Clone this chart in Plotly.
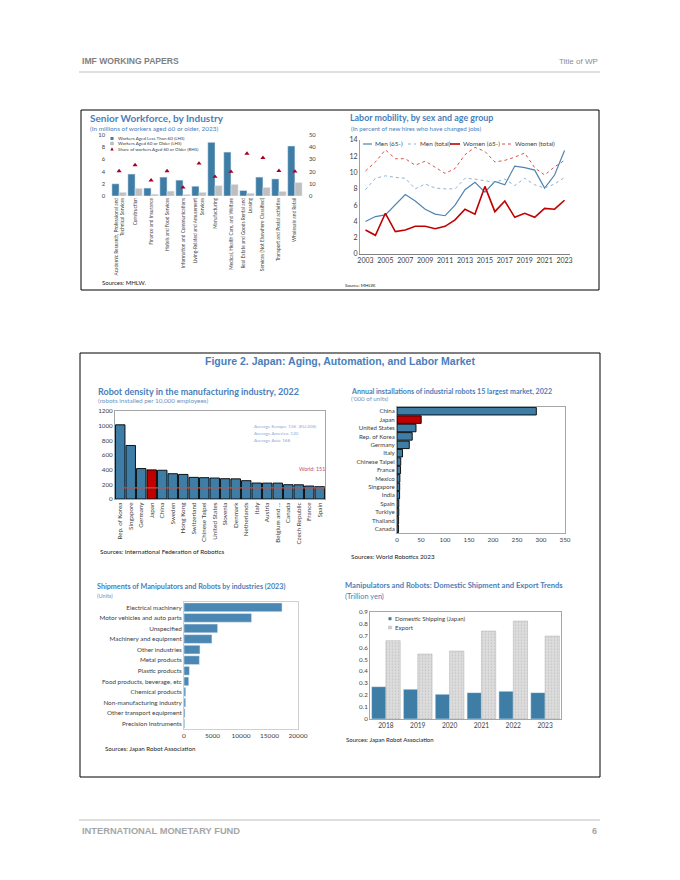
import plotly.graph_objects as go

W, H = 680, 880
def px(x): return x / W
def py(y): return 1 - y / H

# ---------------- data ----------------
industries = [
    "Academic Research, Professional and<br>Technical Services",
    "Construction",
    "Finance and Insurance",
    "Hotels and Food Services",
    "Information and Communications",
    "Living-Related and Amusement<br>Services",
    "Manufacturing",
    "Medical, Health Care, and Welfare",
    "Real Estate and Goods Rental and<br>Leasing",
    "Services (Not Elsewhere Classified)",
    "Transport and Postal activities",
    "Wholesale and Retail",
]
workers_lt60 = [2.0, 3.6, 1.3, 3.1, 2.6, 1.6, 8.8, 7.2, 0.9, 3.1, 2.8, 8.2]
workers_60plus = [0.6, 1.25, 0.3, 0.8, 0.25, 0.6, 1.7, 1.9, 0.45, 1.4, 0.75, 2.2]
share_60plus = [20.4, 25.4, 12.9, 20.4, 7.0, 26.7, 15.8, 19.9, 34.8, 31.3, 20.6, 20.1]

years = list(range(2003, 2024))
men_65 = [4.0, 4.6, 4.8, 6.0, 7.3, 6.5, 5.5, 4.9, 4.7, 6.0, 7.9, 8.8, 7.6, 8.9, 8.5,
          10.8, 10.6, 10.3, 8.1, 9.7, 12.7]
men_total = [7.9, 9.3, 9.6, 9.4, 9.3, 8.0, 8.6, 8.1, 8.0, 8.0, 9.3, 9.2, 9.0, 8.8, 9.2,
             8.4, 9.3, 8.5, 8.1, 8.6, 9.4]
women_65 = [2.95, 2.3, 5.0, 2.75, 2.95, 3.4, 3.4, 3.1, 3.4, 4.2, 5.5, 4.9, 8.3, 5.2, 6.5,
            4.5, 5.0, 4.5, 5.6, 5.5, 6.6]
women_total = [10.2, 11.3, 12.8, 11.7, 11.7, 10.9, 11.4, 10.6, 9.9, 10.5, 12.2, 13.1, 12.6,
               11.3, 11.5, 11.9, 12.4, 10.6, 9.7, 10.7, 11.5]

density_countries = ["Rep. of Korea", "Singapore", "Germany", "Japan", "China", "Sweden",
                     "Hong Kong", "Switzerland", "Chinese Taipei", "United States", "Slovenia",
                     "Denmark", "Netherlands", "Italy", "Austria", "Belgium and ...", "Canada",
                     "Czech Republic", "France", "Spain"]
density_values = [1012, 730, 415, 397, 392, 345, 335, 295, 291, 286, 277, 275, 250, 218, 217,
                  217, 195, 194, 177, 168]
world_density = 151

install_countries = ["China", "Japan", "United States", "Rep. of Korea", "Germany", "Italy",
                     "Chinese Taipei", "France", "Mexico", "Singapore", "India", "Spain",
                     "Turkiye", "Thailand", "Canada"]
install_values = [290.3, 50.4, 39.6, 31.7, 25.6, 11.5, 7.8, 7.4, 6.0, 5.6, 5.4, 3.8, 3.7, 3.3, 3.2]

ship_industries = ["Electrical machinery", "Motor vehicles and auto parts", "Unspecified",
                   "Machinery and equipment", "Other industries", "Metal products",
                   "Plastic products", "Food products, beverage, etc", "Chemical products",
                   "Non-manufacturing industry", "Other transport equipment",
                   "Precision Instruments"]
ship_units = [17200, 11850, 5900, 4900, 2800, 2700, 950, 830, 300, 290, 180, 130]

trend_years = ["2018", "2019", "2020", "2021", "2022", "2023"]
domestic = [0.271, 0.249, 0.207, 0.221, 0.232, 0.221]
export = [0.657, 0.545, 0.570, 0.738, 0.822, 0.696]

# ---------------- style ----------------
BLUE = "#3E7DA6"
BLUE2 = "#4A87B2"
RED = "#C00000"
GRAY = "#BFBFBF"
TITLE = "#4A7EBB"
SUB = "#6E93BF"
TXT = "#404040"
SRC = "#202020"
FONT = "Lato"
HFONT = "Liberation Sans"
FRAME = "#A6A6A6"

fig = go.Figure()

# Top-left: senior workforce
fig.add_trace(go.Bar(x=industries, y=workers_lt60, marker_color=BLUE, xaxis="x", yaxis="y",
                     showlegend=False))
fig.add_trace(go.Bar(x=industries, y=workers_60plus, marker_color=GRAY, xaxis="x", yaxis="y",
                     showlegend=False))
fig.add_trace(go.Scatter(x=industries, y=share_60plus, mode="markers", xaxis="x", yaxis="y2",
                         marker=dict(symbol="triangle-up", size=4.5, color="#A50021"),
                         showlegend=False))

# Top-right: labor mobility
fig.add_trace(go.Scatter(x=years, y=men_65, mode="lines", line=dict(color="#4F84B0", width=1.2),
                         xaxis="x3", yaxis="y3", showlegend=False))
fig.add_trace(go.Scatter(x=years, y=men_total, mode="lines",
                         line=dict(color="#8DB3D6", width=1, dash="dot"),
                         xaxis="x3", yaxis="y3", showlegend=False))
fig.add_trace(go.Scatter(x=years, y=women_65, mode="lines", line=dict(color=RED, width=1.6),
                         xaxis="x3", yaxis="y3", showlegend=False))
fig.add_trace(go.Scatter(x=years, y=women_total, mode="lines",
                         line=dict(color="#D9534F", width=1, dash="dot"),
                         xaxis="x3", yaxis="y3", showlegend=False))

# Middle-left: robot density
fig.add_trace(go.Bar(x=density_countries, y=density_values,
                     marker=dict(color=[RED if c == "Japan" else BLUE for c in density_countries],
                                 line=dict(color="black", width=0.9)),
                     xaxis="x4", yaxis="y4", showlegend=False))

# Middle-right: installations
fig.add_trace(go.Bar(y=install_countries, x=install_values, orientation="h",
                     marker=dict(color=[RED if c == "Japan" else BLUE for c in install_countries],
                                 line=dict(color="black", width=0.9)),
                     xaxis="x5", yaxis="y5", showlegend=False))

# Bottom-left: shipments
fig.add_trace(go.Bar(y=ship_industries, x=ship_units, orientation="h", marker_color=BLUE2,
                     width=0.82, xaxis="x6", yaxis="y6", showlegend=False))

# Bottom-right: domestic vs export
fig.add_trace(go.Bar(x=trend_years, y=domestic, marker_color=BLUE, xaxis="x7", yaxis="y7",
                     showlegend=False))
fig.add_trace(go.Bar(x=trend_years, y=export,
                     marker=dict(color="#DCDCDC", line=dict(color="#B0B0B0", width=0.5),
                                 pattern=dict(shape=".", fgcolor="#A8A8A8", size=3, solidity=0.2)),
                     xaxis="x7", yaxis="y7", showlegend=False))

tick = dict(family=FONT, size=6, color=TXT)
noline = dict(showgrid=False, zeroline=False, showline=False, ticks="")
framed = dict(showgrid=False, zeroline=False, showline=True, linecolor=FRAME, linewidth=1,
              mirror=True, ticks="")

fig.update_layout(
    width=W, height=H, autosize=False,
    margin=dict(l=0, r=0, t=0, b=0, autoexpand=False),
    paper_bgcolor="white", plot_bgcolor="rgba(0,0,0,0)",
    font=dict(family=FONT, color=TXT),
    barmode="group", bargap=0.1, bargroupgap=0,
    # top-left
    xaxis=dict(domain=[px(106), px(308)], anchor="y", tickangle=-90,
               tickfont=dict(family=FONT, size=4.8, color=TXT), **noline),
    yaxis=dict(domain=[py(196), py(135)], anchor="x", range=[0, 10], dtick=2,
               tickfont=dict(family=FONT, size=5.8, color=TXT), **noline),
    yaxis2=dict(overlaying="y", side="right", anchor="x", range=[0, 50], dtick=10,
                tickfont=dict(family=FONT, size=5.8, color=TXT), **noline),
    # top-right
    xaxis3=dict(domain=[px(360), px(570)], anchor="y3", range=[2002.45, 2023.55],
                tickvals=list(range(2003, 2024, 2)), tickangle=0,
                tickfont=dict(family=FONT, size=7, color=TXT),
                showgrid=False, zeroline=False, showline=True, linecolor="#808080", ticks=""),
    yaxis3=dict(domain=[py(254), py(140)], anchor="x3", range=[0, 14], dtick=2,
                tickfont=dict(family=FONT, size=7, color=TXT),
                showgrid=False, zeroline=False, showline=True, linecolor="#A0A0A0", ticks=""),
    # middle-left
    xaxis4=dict(domain=[px(115), px(325)], anchor="y4", tickangle=-90,
                tickfont=dict(family=FONT, size=6.3, color=TXT), **framed),
    yaxis4=dict(domain=[py(499), py(411)], anchor="x4", range=[0, 1200], dtick=200,
                tickfont=dict(family=FONT, size=6.3, color=TXT), **framed),
    # middle-right
    xaxis5=dict(domain=[px(397), px(565)], anchor="y5", range=[0, 350], dtick=50,
                tickfont=dict(family=FONT, size=6.3, color=TXT), **framed),
    yaxis5=dict(domain=[py(533), py(407)], anchor="x5", autorange="reversed",
                tickfont=dict(family=FONT, size=6.1, color=TXT), **framed),
    # bottom-left
    xaxis6=dict(domain=[px(184), px(298)], anchor="y6", range=[0, 20000], dtick=5000,
                tickformat="d",
                tickfont=dict(family=FONT, size=6.5, color=TXT), showgrid=False, zeroline=False,
                showline=True, linecolor="#D0D0D0", mirror=True, ticks=""),
    yaxis6=dict(domain=[py(729), py(602)], anchor="x6", autorange="reversed",
                tickfont=dict(family=FONT, size=6.3, color=TXT), showgrid=False, zeroline=False,
                showline=True, linecolor="#D0D0D0", mirror=True, ticks=""),
    # bottom-right
    xaxis7=dict(domain=[px(370), px(561)], anchor="y7",
                tickfont=dict(family=FONT, size=6.6, color=TXT), **framed),
    yaxis7=dict(domain=[py(719), py(611.7)], anchor="x7", range=[0, 0.9], dtick=0.1,
                tickfont=dict(family=FONT, size=6.2, color=TXT), **framed),
)

shapes = []
annotations = []

def text(x, y, s, size, color=TXT, bold=False, anchor="left", family=FONT):
    if bold:
        s = "<b>" + s + "</b>"
    annotations.append(dict(x=px(x), y=py(y), xref="paper", yref="paper", text=s,
                            showarrow=False, xanchor=anchor, yanchor="middle",
                            font=dict(family=family, size=size, color=color)))

def hline(x0, x1, y, color, width=1, dash=None):
    shapes.append(dict(type="line", xref="paper", yref="paper", x0=px(x0), x1=px(x1),
                       y0=py(y), y1=py(y), line=dict(color=color, width=width, dash=dash)))

def rect(x0, y0, x1, y1, fill=None, line="black", width=1):
    shapes.append(dict(type="rect", xref="paper", yref="paper", x0=px(x0), x1=px(x1),
                       y0=py(y1), y1=py(y0), fillcolor=fill if fill else "rgba(0,0,0,0)",
                       line=dict(color=line, width=width)))

# header / footer
text(80, 61, "IMF WORKING PAPERS", 8.6, "#7F7F7F", True, family=HFONT)
text(600, 61, "Title of WP", 8, "#8C8C8C", anchor="right", family=HFONT)
hline(79, 600, 72, "#BFBFBF", 1)
hline(79, 600, 820, "#BFBFBF", 1)
text(80, 831, "INTERNATIONAL MONETARY FUND", 9.3, "#A6A6A6", True, family=HFONT)
text(599, 831, "6", 9, "#A6A6A6", True, anchor="right", family=HFONT)

# boxes
rect(81, 110, 599, 290, line="black", width=1)
rect(80, 353, 600, 777, line="black", width=1)

# top-left texts
text(88, 118, "Senior Workforce, by Industry", 10, TITLE, True)
text(88, 128, "(In millions of workers aged 60 or older, 2023)", 6.4, TITLE)
text(100, 283, "Sources: MHLW.", 6, SRC)
rect(110.5, 137, 113.5, 140, fill=BLUE, line=BLUE, width=0)
rect(110.5, 142, 113.5, 145, fill=GRAY, line="#A0A0A0", width=0.3)
shapes.append(dict(type="path", xref="paper", yref="paper",
                   path=f"M {px(110.3)},{py(150.5)} L {px(113.7)},{py(150.5)} L {px(112)},{py(147.3)} Z",
                   fillcolor="#A50021", line=dict(color="#A50021", width=0)))
text(115.5, 138.5, "Workers Aged Less Than 60 (LHS)", 4.5)
text(115.5, 143.5, "Workers Aged 60 or Older (LHS)", 4.5)
text(115.5, 149, "Share of workers Aged 60 or Older (RHS)", 4.5)

# top-right texts
text(348, 118, "Labor mobility, by sex and age group", 8.9, TITLE, True)
text(349, 128, "(In percent of new hires who have changed jobs)", 6.2, TITLE)
text(343, 285, "Source: MHLW.", 4.5, SRC)
hline(363, 372, 144, "#4F84B0", 1.2)
text(373, 144, "Men (65-)", 6.4)
hline(408, 416, 144, "#8DB3D6", 1, "dot")
text(418, 144, "Men (total)", 6.4)
hline(450, 460, 144, RED, 1.6)
text(461, 144, "Women (65-)", 6.4)
hline(502, 512, 144, "#D9534F", 1, "dot")
text(513, 144, "Women (total)", 6.4)

# figure title
text(340, 361, "Figure 2. Japan: Aging, Automation, and Labor Market", 10.5, TITLE, True,
     anchor="center", family=HFONT)

# middle-left
text(96, 391, "Robot density in the manufacturing industry, 2022", 9, TITLE, True)
text(96, 400, "(robots installed per 10,000 employees)", 6.4, SUB)
text(98, 551, "Sources: International Federation of Robotics", 6.3, SRC)
text(252, 426, "Average Europe: 136  (EU:208)", 4.6, "#8EA9D0")
text(252, 433, "Average America: 120", 4.6, "#8EA9D0")
text(252, 440, "Average Asia: 168", 4.6, "#8EA9D0")
text(327, 469, "World: 151", 5.3, "#C0504D", anchor="right")
shapes.append(dict(type="line", xref="x4 domain", yref="y4", x0=0.03, x1=1.0,
                   y0=world_density, y1=world_density, line=dict(color="#C0504D", width=1.2)))

# middle-right
text(349, 391, "Annual installations of industrial robots 15 largest market, 2022", 7.1, TITLE, True)
text(349, 399, "('000 of units)", 6.2, SUB)
text(349, 556, "Sources: World Robotics 2023", 6.3, SRC)

# bottom-left
text(95, 586, "Shipments of Manipulators and Robots by industries (2023)", 7.2, TITLE, True)
text(95, 595, "(Units)", 5.6, SUB)
text(103, 748, "Sources: Japan Robot Association", 6.2, SRC)

# bottom-right
text(343, 585, "Manipulators and Robots: Domestic Shipment and Export Trends", 7.6, TITLE, True)
text(343, 596, "(Trillion yen)", 7.4, TITLE)
text(344, 739, "Sources: Japan Robot Association", 6, SRC)
rect(388.5, 617.2, 391.5, 620.2, fill=BLUE, line=BLUE, width=0)
rect(388.5, 626, 391.5, 629, fill="#D0D0D0", line="#A0A0A0", width=0.3)
text(393, 618.7, "Domestic Shipping (Japan)", 6.1)
text(393, 627.5, "Export", 6.1)

fig.update_layout(shapes=shapes, annotations=annotations)
fig.write_html(
    "out.html",
    config={"displayModeBar": False, "responsive": False},
    post_script=(
        "document.documentElement.style.margin='0';document.documentElement.style.overflow='hidden';"
        "document.body.style.margin='0';document.body.style.padding='0';"
        "document.body.style.overflow='hidden';"
        "var d=document.getElementById('{plot_id}');"
        "d.style.position='fixed';d.style.left='0px';d.style.top='0px';"
    ),
)
